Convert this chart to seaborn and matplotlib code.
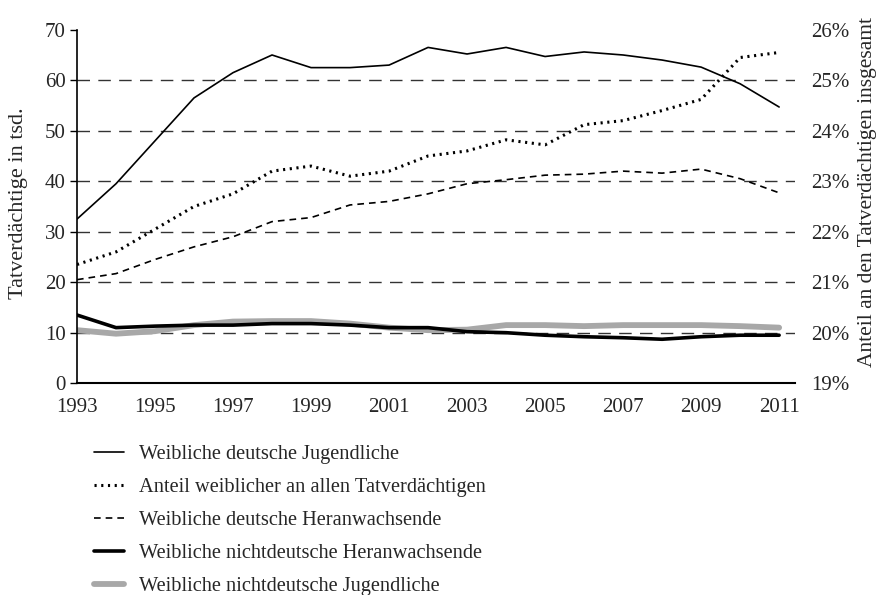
import matplotlib
matplotlib.use("Agg")
import matplotlib.pyplot as plt
from matplotlib.ticker import FuncFormatter
import pandas as pd
import seaborn as sns

# Daten
jahre = list(range(1993, 2012))
dt_jugendliche = [32.5, 39.5, 48.0, 56.5, 61.5, 65.0, 62.5, 62.5, 63.0, 66.5,
                  65.2, 66.5, 64.7, 65.6, 65.0, 64.0, 62.6, 59.3, 54.7]
anteil_pct = [21.35, 21.6, 22.05, 22.5, 22.75, 23.2, 23.3, 23.1, 23.2, 23.5,
              23.6, 23.82, 23.72, 24.12, 24.2, 24.4, 24.62, 25.45, 25.55]
dt_heranwachsende = [20.5, 21.7, 24.5, 27.0, 29.0, 32.0, 32.8, 35.3, 36.0, 37.5,
                     39.5, 40.3, 41.2, 41.4, 42.0, 41.6, 42.4, 40.5, 37.7]
ndt_heranwachsende = [13.5, 11.0, 11.3, 11.5, 11.5, 11.8, 11.8, 11.5, 11.0, 11.0,
                      10.2, 10.0, 9.5, 9.2, 9.0, 8.7, 9.2, 9.5, 9.5]
ndt_jugendliche = [10.5, 9.8, 10.3, 11.5, 12.2, 12.3, 12.3, 11.8, 11.0, 10.5,
                   10.6, 11.5, 11.5, 11.3, 11.5, 11.5, 11.5, 11.3, 11.0]

labels = ["Weibliche deutsche Jugendliche",
          "Anteil weiblicher an allen Tatverdächtigen",
          "Weibliche deutsche Heranwachsende",
          "Weibliche nichtdeutsche Heranwachsende",
          "Weibliche nichtdeutsche Jugendliche"]

df = pd.DataFrame({"Jahr": jahre,
                   "dtj": dt_jugendliche,
                   "anteil": anteil_pct,
                   "dth": dt_heranwachsende,
                   "ndth": ndt_heranwachsende,
                   "ndtj": ndt_jugendliche})

sns.set_theme(style="white")
plt.rcParams['font.family'] = ['Liberation Serif', 'DejaVu Serif']

fig = plt.figure(figsize=(8.85, 5.95), dpi=100)
ax = fig.add_axes([0.087, 0.356, 0.811, 0.594])
ax2 = ax.twinx()

# Linien linke Achse
sns.lineplot(data=df, x="Jahr", y="ndtj", ax=ax, color="#a8a8a8", lw=4.2, label=labels[4])
sns.lineplot(data=df, x="Jahr", y="ndth", ax=ax, color="black", lw=2.6, label=labels[3])
sns.lineplot(data=df, x="Jahr", y="dth", ax=ax, color="black", lw=1.2,
             linestyle=(0, (4, 3)), label=labels[2])
sns.lineplot(data=df, x="Jahr", y="dtj", ax=ax, color="black", lw=1.2, label=labels[0])
# Anteil rechte Achse
sns.lineplot(data=df, x="Jahr", y="anteil", ax=ax2, color="black", lw=2.2,
             linestyle=(0, (0.7, 1.5)), label=labels[1])

for a in (ax, ax2):
    if a.get_legend() is not None:
        a.get_legend().remove()

ax.set_xlim(1993, 2011.4)
ax.set_ylim(0, 70)
ax2.set_ylim(19, 26)
ax.set_xticks(jahre[::2])
ax.set_yticks(range(0, 80, 10))
ax2.set_yticks(range(19, 27))
ax2.yaxis.set_major_formatter(FuncFormatter(lambda v, p: f"{v:.0f}%"))

ax.grid(axis="y", color="#333333", lw=1.0, linestyle=(0, (9, 6)))
ax.grid(axis="x", visible=False)
ax2.grid(False)
gl = ax.get_ygridlines()
gl[0].set_visible(False)
gl[-1].set_visible(False)

for s in ["top", "right"]:
    ax.spines[s].set_visible(False)
for s in ["top", "right", "left", "bottom"]:
    ax2.spines[s].set_visible(False)
ax.spines["left"].set_color("black")
ax.spines["left"].set_linewidth(1.2)
ax.spines["bottom"].set_color("black")
ax.spines["bottom"].set_linewidth(1.5)

ax.tick_params(axis="y", left=True, length=5, width=1, color="black",
               labelsize=15, pad=3, direction="out")
ax.tick_params(axis="x", bottom=False, labelsize=15, pad=5)
ax2.tick_params(axis="y", right=False, labelsize=15, pad=6)

ax.set_xlabel("")
ax.set_ylabel("Tatverdächtige in tsd.", fontsize=16)
ax2.set_ylabel("Anteil an den Tatverdächtigen insgesamt", fontsize=15.5)
ax.yaxis.set_label_coords(-0.068, 0.51)
ax2.yaxis.set_label_coords(1.088, 0.54)

# Legende unter dem Diagramm
h1, l1 = ax.get_legend_handles_labels()
h2, l2 = ax2.get_legend_handles_labels()
lookup = dict(zip(l1 + l2, h1 + h2))
fig.legend([lookup[l] for l in labels], labels, loc="upper left",
           bbox_to_anchor=(0.106, 0.253), frameon=False, fontsize=14.7,
           handlelength=1.5, handletextpad=0.72, labelspacing=0.68,
           borderpad=0, borderaxespad=0)

fig.savefig("out.png", dpi=100, facecolor="white")
